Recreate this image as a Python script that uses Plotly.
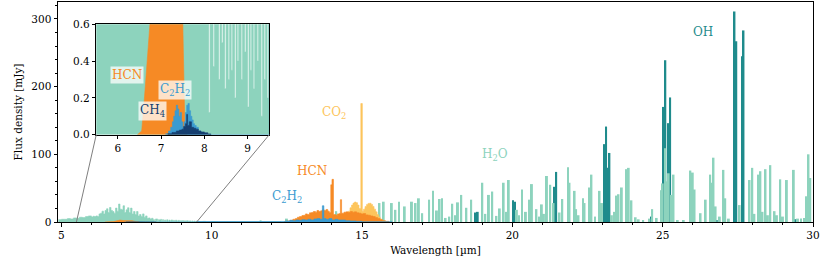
import plotly.graph_objects as go

# ---------------- data ----------------
# H2O ro-vibrational band region (sampled spectrum, mJy)
h2o_band_wl = [4.90, 5.00, 5.10, 5.20, 5.30, 5.40, 5.50, 5.60, 5.70, 5.80, 5.90, 6.00, 6.05, 6.10,
               6.15, 6.20, 6.25, 6.30, 6.35, 6.40, 6.45, 6.50, 6.55, 6.60, 6.65, 6.70, 6.75, 6.80,
               6.85, 6.90, 6.95, 7.00, 7.05, 7.10, 7.15, 7.20, 7.25, 7.30, 7.35, 7.40, 7.45, 7.50,
               7.55, 7.60, 7.65, 7.70, 7.75, 7.80, 7.85, 7.90, 7.95, 8.00, 8.05, 8.10, 8.13, 8.20,
               8.23, 8.26, 8.30, 8.33, 8.36, 8.40, 8.43, 8.47, 8.50, 8.55, 8.58, 8.62, 8.65, 8.70,
               8.73, 8.76, 8.79, 8.85, 8.88, 8.93, 8.96, 9.00, 9.03, 9.06, 9.09, 9.13, 9.16, 9.22,
               9.25, 9.31, 9.34, 9.38, 9.41, 9.45, 9.48, 9.55, 9.70, 9.80, 10.00, 10.20, 10.50,
               10.80, 11.00, 11.30, 11.60, 11.65, 12.00, 12.30]
h2o_band_flux = [3.5, 4.0, 4.0, 5.0, 4.5, 6.0, 5.5, 7.0, 6.5, 8.0, 9.0, 7.5, 8.5, 8.0,
                 9.0, 8.0, 12.0, 13.0, 16.0, 12.0, 17.0, 19.5, 14.0, 21.5, 17.0, 15.5, 13.0, 20.5,
                 16.0, 26.5, 19.0, 18.0, 24.0, 14.0, 18.0, 21.0, 14.0, 20.5, 12.0, 15.5, 11.0, 15.5,
                 9.0, 11.0, 8.0, 12.0, 7.0, 9.0, 5.5, 6.0, 4.5, 5.5, 3.5, 0.12, 4.5, 0.37,
                 3.5, 2.8, 4.0, 0.30, 3.5, 0.50, 3.0, 0.25, 3.2, 0.30, 2.8, 0.35, 3.0, 0.20,
                 2.5, 0.40, 2.6, 0.30, 2.4, 0.45, 2.0, 0.15, 2.2, 0.35, 1.8, 0.25, 2.0, 0.40,
                 1.6, 0.10, 1.5, 0.30, 1.4, 0.20, 1.2, 0.50, 0.9, 0.30, 0.6, 0.30, 0.50,
                 0.30, 0.40, 0.30, 2.0, 0.40, 0.50, 0.60]

# H2O individual lines (pure rotational, mJy)
h2o_line_wl = [12.50, 12.95, 13.20, 14.14, 14.35, 14.55, 15.42, 15.58, 15.72, 15.99, 16.11, 16.23,
               16.42, 16.66, 16.78, 16.89, 17.00, 17.23, 17.36, 17.49, 17.58, 17.66, 17.78, 17.90,
               18.00, 18.10, 18.19, 18.30, 18.47, 18.63, 19.00, 19.10, 19.22, 19.33, 19.47, 19.58,
               19.71, 19.80, 19.88, 20.15, 20.22, 20.32, 20.45, 20.57, 20.65, 20.80, 20.90, 20.98,
               21.05, 21.15, 21.26, 21.37, 21.57, 21.66, 21.85, 21.90, 22.07, 22.12, 22.20, 22.35,
               22.40, 22.55, 22.63, 22.75, 22.90, 22.98, 23.31, 23.40, 23.46, 23.53, 23.64, 23.79,
               23.87, 23.96, 24.10, 24.20, 24.35, 24.56, 24.65, 24.80, 24.95, 25.00, 25.08, 25.15,
               25.20, 25.28, 25.36, 25.50, 25.70, 25.92, 26.00, 26.06, 26.26, 26.43, 26.58, 26.65,
               26.69, 26.76, 26.90, 27.02, 27.08, 27.20, 27.56, 27.89, 27.98, 28.05, 28.19, 28.25,
               28.32, 28.42, 28.50, 28.58, 28.72, 28.80, 28.91, 29.00, 29.13, 29.36, 29.50, 29.60,
               29.70, 29.77, 29.85, 29.91]
h2o_line_flux = [5, 3, 2, 16, 10, 8, 16, 28, 30, 28, 18, 30,
                 23, 30, 28, 35, 13, 33, 46, 17, 34, 35, 6, 8,
                 27, 10, 29, 40, 21, 33, 58, 12, 40, 45, 9, 20,
                 58, 15, 62, 18, 10, 48, 15, 33, 56, 19, 8, 26,
                 12, 68, 55, 28, 14, 34, 81, 58, 46, 19, 10, 35,
                 28, 51, 70, 8, 46, 28, 10, 15, 39, 41, 51, 78,
                 80, 32, 7, 4, 3, 5, 19, 6, 47, 57, 109, 60,
                 72, 40, 70, 3, 3, 76, 73, 48, 13, 33, 70, 58,
                 95, 23, 8, 77, 35, 5, 25, 62, 80, 12, 70, 75,
                 15, 78, 10, 84, 16, 10, 63, 8, 62, 77, 5, 5,
                 6, 38, 100, 65]

# OH lines (mJy)
oh_wl = [18.78, 18.85, 20.02, 20.09, 21.40, 21.46, 23.07, 23.12, 23.18, 23.23, 24.62,
         25.02, 25.09, 25.20, 25.25, 26.80, 27.39, 27.45, 27.64, 27.69, 29.40]
oh_flux = [14, 15, 32, 30, 52, 74, 115, 141, 80, 102, 8,
           170, 239, 146, 184, 2, 311, 267, 245, 283, 4]

# CO2 band (P/R envelope with Q branch)
co2_wl = [14.30, 14.35, 14.40, 14.45, 14.50, 14.55, 14.60, 14.65, 14.70, 14.75, 14.80, 14.85,
          14.90, 14.96, 15.01, 15.05, 15.10, 15.15, 15.20, 15.25, 15.30, 15.35, 15.40, 15.45,
          15.50, 15.55, 15.60, 15.65, 15.70, 15.75]
co2_flux = [0.5, 2, 4, 7, 11, 16, 21, 25, 28, 29.5, 28.5, 25,
            20, 175, 16, 19, 23, 26, 27.5, 27.7, 26, 23, 19, 15,
            11, 7.5, 4.5, 2.5, 1, 0]

# HCN 14 um band
hcn_wl = [12.40, 12.50, 12.60, 12.70, 12.78, 12.85, 12.92, 13.00, 13.06, 13.12, 13.18, 13.25,
          13.32, 13.38, 13.45, 13.50, 13.56, 13.62, 13.68, 13.74, 13.80, 13.86, 13.91, 13.96,
          14.00, 14.05, 14.12, 14.18, 14.24, 14.28, 14.32, 14.40, 14.47, 14.54, 14.61, 14.68,
          14.75, 14.82, 14.90, 14.97, 15.04, 15.12, 15.20, 15.28, 15.36, 15.44, 15.52, 15.60,
          15.68, 15.78, 15.90]
hcn_flux = [0.5, 1.5, 2.5, 4, 5, 7, 8, 9.5, 10, 12, 11, 13.5,
            14, 15.5, 14.5, 17, 15.5, 16.5, 18, 17, 18.5, 16, 14, 55,
            63, 11, 10, 12, 12.5, 33, 13, 14.5, 15, 14, 15.5, 14.5,
            15, 13.5, 13, 12, 12.5, 10.5, 10, 9, 8, 6.5, 5, 3.5,
            2, 1, 0]

# HCN 7 um band
hcn7_wl = [6.45, 6.55, 6.61, 6.66, 6.74, 6.85, 6.95, 7.05, 7.15, 7.25, 7.35, 7.45, 7.50, 7.53, 7.55, 7.60]
hcn7_flux = [0, 0.02, 0.19, 0.35, 0.6, 1.8, 2.8, 2.2, 2.0, 2.8, 2.0, 0.9, 0.6, 0.26, 0.02, 0]

# C2H2 (7.5 um band, weak continuum, 13.7 um band)
c2h2_wl = [7.10, 7.17, 7.22, 7.26, 7.29, 7.32, 7.35, 7.38, 7.41, 7.44, 7.47, 7.50, 7.53, 7.56,
           7.59, 7.62, 7.65, 7.68, 7.71, 7.74, 7.77, 7.81, 7.86, 7.92, 8.00, 9.50, 12.30, 12.45,
           12.60, 12.70, 12.80, 12.90, 13.00, 13.10, 13.20, 13.30, 13.40, 13.50, 13.60, 13.68,
           13.73, 13.80, 13.90, 14.00, 14.10, 14.20, 14.30, 14.45, 14.60, 14.80, 15.00, 16.00]
c2h2_flux = [0.005, 0.02, 0.04, 0.07, 0.10, 0.13, 0.16, 0.14, 0.10, 0.12, 0.07, 0.04, 0.07, 0.12,
             0.16, 0.17, 0.13, 0.10, 0.08, 0.06, 0.05, 0.04, 0.02, 0.01, 0.0, 0.6, 0.8, 1.5,
             2.5, 2.0, 3.0, 2.5, 3.5, 3.0, 4.0, 3.0, 4.5, 5.0, 4.0, 24.0,
             5.0, 4.0, 5.0, 3.0, 4.0, 3.0, 3.0, 2.0, 1.5, 1.0, 0.5, 0.3]

# CH4 (7.7 um band)
ch4_wl = [7.15, 7.25, 7.35, 7.42, 7.48, 7.52, 7.56, 7.59, 7.61, 7.65, 7.70, 7.75, 7.80, 7.86,
          7.92, 8.00, 8.08, 8.15]
ch4_flux = [0.005, 0.012, 0.02, 0.025, 0.03, 0.045, 0.06, 0.11, 0.05, 0.07, 0.04, 0.035, 0.03, 0.02,
            0.015, 0.01, 0.004, 0.0]

# colours
C_H2O = "#8dd3bd"
C_OH = "#1f8b8c"
C_CO2 = "#fdc55c"
C_HCN = "#f68a25"
C_C2H2 = "#3b9bd0"
C_CH4 = "#163f70"

# axis geometry
main_xrange = [4.887, 30.0]
main_yrange = [0.0, 325.0]
inset_xrange = [5.5, 9.5]
inset_yrange = [0.0, 0.6]
inset_xdom = [0.0507, 0.2799]
inset_ydom = [0.397, 0.8986]

FONT = "DejaVu Serif"

fig = go.Figure()

# line lists as narrow bars (drawn beneath the band areas)
fig.add_trace(go.Bar(x=oh_wl, y=oh_flux, width=0.06, marker=dict(color=C_OH, line=dict(width=0)),
                     xaxis="x", yaxis="y"))
fig.add_trace(go.Bar(x=h2o_line_wl, y=h2o_line_flux, width=0.065,
                     marker=dict(color=C_H2O, line=dict(width=0)), xaxis="x", yaxis="y"))


def area(xs, ys, color, shape, xa, ya):
    return go.Scatter(x=xs, y=ys, mode="lines", fill="tozeroy", fillcolor=color,
                      line=dict(color=color, width=0.6, shape=shape), xaxis=xa, yaxis=ya,
                      hoverinfo="skip")


for xa, ya in (("x", "y"), ("x2", "y2")):
    fig.add_trace(area(h2o_band_wl, h2o_band_flux, C_H2O, "hv", xa, ya))
    if xa == "x":
        fig.add_trace(area(co2_wl, co2_flux, C_CO2, "hv", xa, ya))
        fig.add_trace(area(hcn_wl, hcn_flux, C_HCN, "hv", xa, ya))
    fig.add_trace(area(hcn7_wl, hcn7_flux, C_HCN, "linear", xa, ya))
    fig.add_trace(area(c2h2_wl, c2h2_flux, C_C2H2, "hv", xa, ya))
    fig.add_trace(area(ch4_wl, ch4_flux, C_CH4, "hv", xa, ya))

# labels
main_labels = [
    ("CO<sub>2</sub>", 14.07, 161, C_CO2),
    ("HCN", 13.32, 76, C_HCN),
    ("C<sub>2</sub>H<sub>2</sub>", 12.49, 37, C_C2H2),
    ("H<sub>2</sub>O", 19.41, 99, C_H2O),
    ("OH", 26.33, 280, C_OH),
]
annotations = []
for txt, x, y, c in main_labels:
    annotations.append(dict(text=txt, x=x, y=y, xref="x", yref="y", showarrow=False,
                            font=dict(family=FONT, size=12, color=c)))
inset_labels = [
    ("HCN", 6.22, 0.322, C_HCN),
    ("C<sub>2</sub>H<sub>2</sub>", 7.31, 0.243, C_C2H2),
    ("CH<sub>4</sub>", 6.80, 0.126, C_CH4),
]
for txt, x, y, c in inset_labels:
    annotations.append(dict(text=txt, x=x, y=y, xref="x2", yref="y2", showarrow=False,
                            bgcolor="rgba(255,255,255,0.75)", borderpad=1,
                            font=dict(family=FONT, size=12, color=c)))


def to_paper(v):
    return (v - main_xrange[0]) / (main_xrange[1] - main_xrange[0])


shapes = [
    dict(type="line", xref="paper", yref="paper", x0=inset_xdom[0], y0=inset_ydom[0],
         x1=to_paper(inset_xrange[0]), y1=0, line=dict(color="#7f7f7f", width=1)),
    dict(type="line", xref="paper", yref="paper", x0=inset_xdom[1], y0=inset_ydom[0],
         x1=to_paper(inset_xrange[1]), y1=0, line=dict(color="#7f7f7f", width=1)),
]

axis_common = dict(showgrid=False, zeroline=False, showline=True, linecolor="black", linewidth=1,
                   mirror=True, ticks="outside", ticklen=3.5, tickwidth=1, tickcolor="black",
                   automargin=False,
                   tickfont=dict(family=FONT, size=10.5, color="black"))

fig.update_layout(
    width=830, height=262,
    margin=dict(l=58, r=17, t=2, b=40),
    paper_bgcolor="white", plot_bgcolor="white",
    showlegend=False, barmode="overlay",
    font=dict(family=FONT, size=10, color="black"),
    xaxis=dict(range=main_xrange, domain=[0, 1], anchor="y", tick0=5, dtick=5,
               minor=dict(dtick=1, ticklen=2, ticks="outside", tickcolor="black"),
               title=dict(text="Wavelength [µm]", standoff=6, font=dict(family=FONT, size=10.5)),
               **axis_common),
    yaxis=dict(range=main_yrange, domain=[0, 1], anchor="x", tick0=0, dtick=100,
               minor=dict(dtick=20, ticklen=2, ticks="outside", tickcolor="black"),
               title=dict(text="Flux density [mJy]", standoff=6, font=dict(family=FONT, size=10.5)),
               **axis_common),
    xaxis2=dict(range=inset_xrange, domain=inset_xdom, anchor="y2", tickvals=[6, 7, 8, 9],
                **axis_common),
    yaxis2=dict(range=inset_yrange, domain=inset_ydom, anchor="x2",
                tickvals=[0, 0.2, 0.4, 0.6], tickformat=".1f", **axis_common),
    annotations=annotations,
    shapes=shapes,
)

fig.write_html("out.html", config={"displayModeBar": False},
               post_script="document.body.style.margin='0';document.body.style.padding='0';")
